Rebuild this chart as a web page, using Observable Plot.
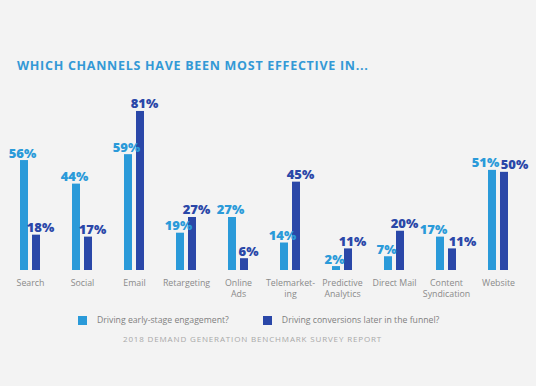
<!DOCTYPE html>
<html>
<head>
<meta charset="utf-8">
<script src="https://cdn.jsdelivr.net/npm/d3@7"></script>
<script src="https://cdn.jsdelivr.net/npm/@observablehq/plot@0.6"></script>
<style>
  html, body { margin: 0; padding: 0; background: #f3f3f3; }
  #wrap { position: relative; width: 536px; height: 386px; background: #f3f3f3; overflow: hidden; font-family: "Open Sans", sans-serif; }
  #title { position: absolute; left: 17px; top: 57px; font-size: 12.5px; font-weight: 700; color: #3399d6; letter-spacing: 0.72px; white-space: nowrap; }
  #chart { position: absolute; left: 0; top: 80px; }
  #legend { position: absolute; left: 78px; top: 314px; font-size: 8.7px; color: #808080; white-space: nowrap; display: flex; align-items: center; }
  #legend .sw { display: inline-block; width: 9px; height: 9px; margin-right: 10px; }
  #legend .item { display: flex; align-items: center; }
  #footer { position: absolute; left: 123px; top: 333px; font-size: 8px; color: #a8a8a8; letter-spacing: 0.85px; white-space: nowrap; }
</style>
</head>
<body>
<div id="wrap">
  <div id="title">WHICH CHANNELS HAVE BEEN MOST EFFECTIVE IN...</div>
  <div id="chart"></div>
  <div id="legend"></div>
  <div id="footer">2018 DEMAND GENERATION BENCHMARK SURVEY REPORT</div>
</div>
<script>
const categories = ["Search", "Social", "Email", "Retargeting", "Online Ads", "Telemarketing", "Predictive Analytics", "Direct Mail", "Content Syndication", "Website"];
const categoryLabels = ["Search", "Social", "Email", "Retargeting", "Online\nAds", "Telemarket-\ning", "Predictive\nAnalytics", "Direct Mail", "Content\nSyndication", "Website"];
const seriesNames = ["Driving early-stage engagement?", "Driving conversions later in the funnel?"];
const earlyStage = [56, 44, 59, 19, 27, 14, 2, 7, 17, 51];
const conversions = [18, 17, 81, 27, 6, 45, 11, 20, 11, 50];
const colors = ["#2a9ad9", "#2a47a8"];

const data = [];
categories.forEach((c, i) => {
  const close = Math.abs(earlyStage[i] - conversions[i]) <= 6;
  data.push({category: c, series: seriesNames[0], value: earlyStage[i], close});
  data.push({category: c, series: seriesNames[1], value: conversions[i], close});
});
const labelOf = new Map(categories.map((c, i) => [c, categoryLabels[i]]));

const labelOpts = {
  fx: "category", x: "series", y: "value",
  text: d => d.value + "%",
  fill: "series",
  lineAnchor: "bottom",
  dy: -3,
  fontSize: 13,
  fontWeight: 800,
  fontFamily: "Open Sans, sans-serif"
};
const pick = (s, close) => data.filter(d => d.series === seriesNames[s] && d.close === close);

const chart = Plot.plot({
  width: 536,
  height: 230,
  marginTop: 0,
  marginBottom: 40,
  marginLeft: 17,
  marginRight: 26,
  style: {background: "transparent", fontFamily: "Open Sans, sans-serif", overflow: "visible"},
  fx: {domain: categories, paddingInner: 0.58, paddingOuter: 0, label: null},
  x: {domain: seriesNames, paddingInner: 0.3, paddingOuter: 0, axis: null},
  y: {domain: [0, 90], range: [190, 13.3], axis: null},
  color: {domain: seriesNames, range: colors},
  marks: [
    Plot.barY(data, {fx: "category", x: "series", y: "value", fill: "series"}),
    Plot.text(pick(0, false), {...labelOpts, dx: -2}),
    Plot.text(pick(1, false), {...labelOpts, dx: 4}),
    Plot.text(pick(0, true), {...labelOpts, dx: -7}),
    Plot.text(pick(1, true), {...labelOpts, dx: 10}),
    Plot.axisFx({
      anchor: "bottom",
      tickSize: 0,
      tickPadding: 7,
      tickFormat: c => labelOf.get(c),
      fontSize: 8.8,
      lineHeight: 1.3,
      fill: "#8a8a8a",
      label: null
    })
  ]
});
document.getElementById("chart").appendChild(chart);

const legend = document.getElementById("legend");
seriesNames.forEach((s, i) => {
  const item = document.createElement("span");
  item.className = "item";
  item.style.marginRight = i === 0 ? "34px" : "0";
  const sw = document.createElement("span");
  sw.className = "sw";
  sw.style.background = colors[i];
  item.appendChild(sw);
  item.appendChild(document.createTextNode(s));
  legend.appendChild(item);
});
</script>
</body>
</html>
